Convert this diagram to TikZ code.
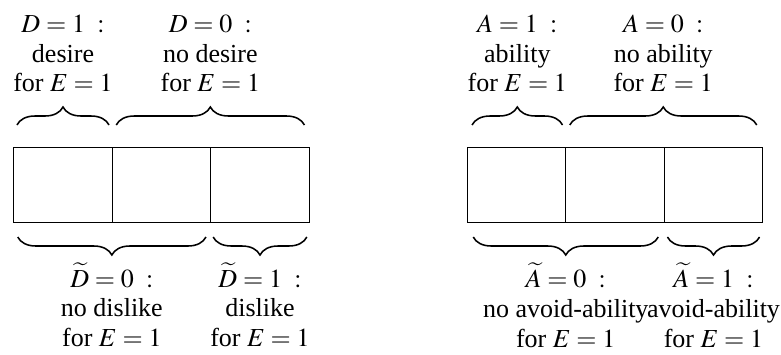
\documentclass[tikz,border=0pt]{standalone}
\usepackage{mathptmx}
\usepackage{fontspec}
\setmainfont{Liberation Serif}
\usepackage{tikz}
\usetikzlibrary{decorations.pathreplacing, positioning}

\begin{document}
\begin{tikzpicture}[
    node distance=0pt,
    every node/.style={font=\rmfamily\fontsize{18.5pt}{21.3pt}\selectfont},
    cell/.style={
        rectangle,
        minimum width=2.4625cm,
        minimum height=1.875cm,
        inner sep=0pt,
        outer sep=0pt,
        draw=black
    },
    topbrace/.style={
        line width=1.1pt,
        decorate,
        decoration={brace, amplitude=0.45cm}
    },
    botbrace/.style={
        line width=1.1pt,
        decorate,
        decoration={brace, mirror, amplitude=0.45cm}
    },
    toplabel/.style={align=center, inner sep=0pt, anchor=south, yshift=0.8cm},
    botlabel/.style={align=center, inner sep=0pt, anchor=north, yshift=-0.62cm}
]

\useasboundingbox (0,0) rectangle (19.525,8.85);

% desire / dislike
\node (d1) [cell] at (1.575,4.2375) {};
\node (d2) [cell, right=of d1] {};
\node (d3) [cell, right=of d2] {};

% ability / avoid-ability
\node (a1) [cell] at (12.9125,4.2375) {};
\node (a2) [cell, right=of a1] {};
\node (a3) [cell, right=of a2] {};

\draw [topbrace] ([xshift=0.08cm, yshift=0.55cm]d1.north west) -- ([xshift=-0.08cm, yshift=0.55cm]d1.north east)
    node [toplabel, midway] (dyes) {$D = 1\ :$\\ desire\\ for $E = 1$};
\draw [topbrace] ([xshift=0.1cm, yshift=0.55cm]d2.north west) -- ([xshift=-0.12cm, yshift=0.55cm]d3.north east)
    node [toplabel, midway] (dno) {$D = 0\ :$\\ no desire\\ for $E = 1$};
\draw [botbrace] ([xshift=0.1cm, yshift=-0.375cm]d1.south west) -- ([xshift=-0.12cm, yshift=-0.375cm]d2.south east)
    node [botlabel, midway] (nodis) {$\widetilde{D} = 0\ :$\\ no dislike\\ for $E = 1$};
\draw [botbrace] ([xshift=0.06cm, yshift=-0.375cm]d3.south west) -- ([xshift=-0.06cm, yshift=-0.375cm]d3.south east)
    node [botlabel, midway] (dis) {$\widetilde{D} = 1\ :$\\ dislike\\ for $E = 1$};

\draw [topbrace] ([xshift=0.12cm, yshift=0.55cm]a1.north west) -- ([xshift=-0.08cm, yshift=0.55cm]a1.north east)
    node [toplabel, midway] (ayes) {$A = 1\ :$\\ ability\\ for $E = 1$};
\draw [topbrace] ([xshift=0.1cm, yshift=0.55cm]a2.north west) -- ([xshift=-0.15cm, yshift=0.55cm]a3.north east)
    node [toplabel, midway] (ano) {$A = 0\ :$\\ no ability\\ for $E = 1$};
\draw [botbrace] ([xshift=0.15cm, yshift=-0.375cm]a1.south west) -- ([xshift=-0.15cm, yshift=-0.375cm]a2.south east)
    node [botlabel, midway] (noavoid) {$\widetilde{A} = 0\ :$\\ no avoid-ability\\ for $E = 1$};
\draw [botbrace] ([xshift=0.08cm, yshift=-0.375cm]a3.south west) -- ([xshift=-0.08cm, yshift=-0.375cm]a3.south east)
    node [botlabel, midway] (avoid) {$\widetilde{A} = 1\ :$\\ avoid-ability\\ for $E = 1$};

\end{tikzpicture}
\end{document}
